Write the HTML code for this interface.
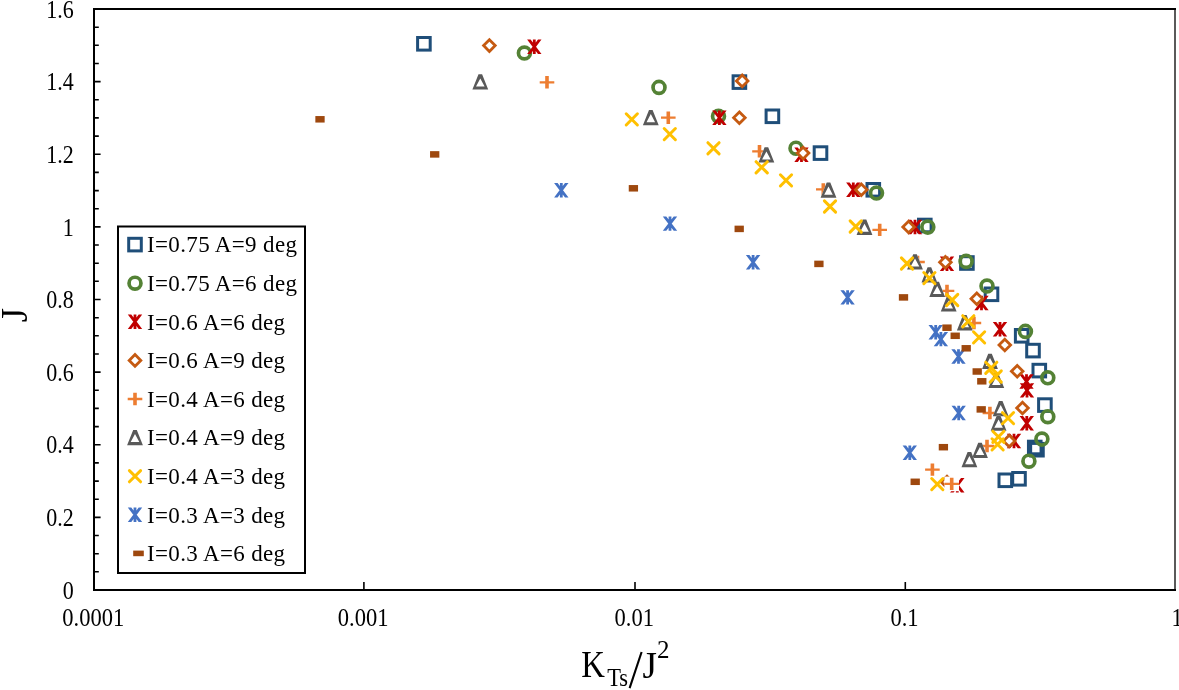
<!DOCTYPE html><html><head><meta charset="utf-8"><style>html,body{margin:0;padding:0;background:#fff;}svg{display:block;filter:blur(0.35px);}text{font-family:"Liberation Serif",serif;fill:#000;}</style></head><body>
<svg width="1179" height="690" viewBox="0 0 1179 690">
<rect width="1179" height="690" fill="#fff"/>
<path d="M94.0,571.8H98.8M94.0,553.7H98.8M94.0,535.5H98.8M94.0,517.4H100.6M94.0,499.2H98.8M94.0,481.1H98.8M94.0,462.9H98.8M94.0,444.8H100.6M94.0,426.6H98.8M94.0,408.4H98.8M94.0,390.3H98.8M94.0,372.1H100.6M94.0,354.0H98.8M94.0,335.8H98.8M94.0,317.7H98.8M94.0,299.5H100.6M94.0,281.3H98.8M94.0,263.2H98.8M94.0,245.0H98.8M94.0,226.9H100.6M94.0,208.7H98.8M94.0,190.6H98.8M94.0,172.4H98.8M94.0,154.2H100.6M94.0,136.1H98.8M94.0,117.9H98.8M94.0,99.8H98.8M94.0,81.6H100.6M94.0,63.5H98.8M94.0,45.3H98.8M94.0,27.2H98.8" stroke="#000" stroke-width="1.6"/>
<path d="M363.9,590.0V582.0M635.0,590.0V582.0M905.3,590.0V582.0" stroke="#000" stroke-width="1.6"/>
<rect x="94.0" y="9.0" width="1081.0" height="581.0" fill="none" stroke="#000" stroke-width="2"/>
<path d="M1175.0,10.0V589.0" fill="none" stroke="#5a5a5a" stroke-width="2"/>
<text transform="translate(73.8,598.6) scale(0.88,1)" font-size="25" text-anchor="end">0</text>
<text transform="translate(73.8,526.0) scale(0.88,1)" font-size="25" text-anchor="end">0.2</text>
<text transform="translate(73.8,453.4) scale(0.88,1)" font-size="25" text-anchor="end">0.4</text>
<text transform="translate(73.8,380.7) scale(0.88,1)" font-size="25" text-anchor="end">0.6</text>
<text transform="translate(73.8,308.1) scale(0.88,1)" font-size="25" text-anchor="end">0.8</text>
<text transform="translate(73.8,235.5) scale(0.88,1)" font-size="25" text-anchor="end">1</text>
<text transform="translate(73.8,162.8) scale(0.88,1)" font-size="25" text-anchor="end">1.2</text>
<text transform="translate(73.8,90.2) scale(0.88,1)" font-size="25" text-anchor="end">1.4</text>
<text transform="translate(73.8,17.6) scale(0.88,1)" font-size="25" text-anchor="end">1.6</text>
<text transform="translate(93.2,625.8) scale(0.9,1)" font-size="25" text-anchor="middle">0.0001</text>
<text transform="translate(363.1,625.8) scale(0.9,1)" font-size="25" text-anchor="middle">0.001</text>
<text transform="translate(634.2,625.8) scale(0.9,1)" font-size="25" text-anchor="middle">0.01</text>
<text transform="translate(904.5,625.8) scale(0.9,1)" font-size="25" text-anchor="middle">0.1</text>
<text transform="translate(1177.1,625.8) scale(0.9,1)" font-size="25" text-anchor="middle">1</text>
<text transform="translate(27.4,315) rotate(-90)" font-size="37" text-anchor="middle">J</text>
<text transform="translate(581.2,677) scale(0.885,1)" font-size="37">K</text>
<text transform="translate(607.2,685.5) scale(0.9,1)" font-size="25">Ts</text>
<path d="M629.6,688.2L641.6,652" stroke="#000" stroke-width="2.1"/>
<text x="642.4" y="678.2" font-size="37">J</text>
<text x="657" y="658.3" font-size="25">2</text>
<rect x="417.60" y="37.50" width="12.6" height="12.6" fill="none" stroke="#1F4E79" stroke-width="3"/>
<rect x="733.10" y="75.80" width="12.6" height="12.6" fill="none" stroke="#1F4E79" stroke-width="3"/>
<rect x="766.10" y="110.00" width="12.6" height="12.6" fill="none" stroke="#1F4E79" stroke-width="3"/>
<rect x="814.20" y="146.80" width="12.6" height="12.6" fill="none" stroke="#1F4E79" stroke-width="3"/>
<rect x="867.00" y="183.50" width="12.6" height="12.6" fill="none" stroke="#1F4E79" stroke-width="3"/>
<rect x="918.50" y="219.20" width="12.6" height="12.6" fill="none" stroke="#1F4E79" stroke-width="3"/>
<rect x="960.60" y="256.70" width="12.6" height="12.6" fill="none" stroke="#1F4E79" stroke-width="3"/>
<rect x="985.20" y="288.00" width="12.6" height="12.6" fill="none" stroke="#1F4E79" stroke-width="3"/>
<rect x="1015.40" y="329.50" width="12.6" height="12.6" fill="none" stroke="#1F4E79" stroke-width="3"/>
<rect x="1026.70" y="344.30" width="12.6" height="12.6" fill="none" stroke="#1F4E79" stroke-width="3"/>
<rect x="1033.00" y="364.30" width="12.6" height="12.6" fill="none" stroke="#1F4E79" stroke-width="3"/>
<rect x="1038.60" y="398.80" width="12.6" height="12.6" fill="none" stroke="#1F4E79" stroke-width="3"/>
<rect x="1028.45" y="441.20" width="12.6" height="12.6" fill="none" stroke="#1F4E79" stroke-width="3"/>
<rect x="1030.65" y="443.40" width="12.6" height="12.6" fill="none" stroke="#1F4E79" stroke-width="3"/>
<rect x="999.00" y="474.00" width="12.6" height="12.6" fill="none" stroke="#1F4E79" stroke-width="3"/>
<rect x="1012.70" y="472.50" width="12.6" height="12.6" fill="none" stroke="#1F4E79" stroke-width="3"/>
<circle cx="524.40" cy="53.00" r="5.95" fill="none" stroke="#548235" stroke-width="3.7"/>
<circle cx="659.00" cy="87.40" r="5.95" fill="none" stroke="#548235" stroke-width="3.7"/>
<circle cx="718.50" cy="116.30" r="5.95" fill="none" stroke="#548235" stroke-width="3.7"/>
<circle cx="796.00" cy="148.20" r="5.95" fill="none" stroke="#548235" stroke-width="3.7"/>
<circle cx="876.50" cy="193.00" r="5.95" fill="none" stroke="#548235" stroke-width="3.7"/>
<circle cx="927.80" cy="227.10" r="5.95" fill="none" stroke="#548235" stroke-width="3.7"/>
<circle cx="966.10" cy="261.40" r="5.95" fill="none" stroke="#548235" stroke-width="3.7"/>
<circle cx="987.00" cy="286.00" r="5.95" fill="none" stroke="#548235" stroke-width="3.7"/>
<circle cx="1025.40" cy="331.40" r="5.95" fill="none" stroke="#548235" stroke-width="3.7"/>
<circle cx="1047.80" cy="377.80" r="5.95" fill="none" stroke="#548235" stroke-width="3.7"/>
<circle cx="1047.80" cy="416.70" r="5.95" fill="none" stroke="#548235" stroke-width="3.7"/>
<circle cx="1041.90" cy="439.10" r="5.95" fill="none" stroke="#548235" stroke-width="3.7"/>
<circle cx="1028.90" cy="461.20" r="5.95" fill="none" stroke="#548235" stroke-width="3.7"/>
<path d="M527.10,39.50L530.60,39.50L541.50,53.90L538.00,53.90ZM530.60,53.90L527.10,53.90L538.00,39.50L541.50,39.50ZM532.90,39.50L535.70,39.50L535.70,53.90L532.90,53.90Z" fill="#C00000"/>
<path d="M712.20,110.50L715.70,110.50L726.60,124.90L723.10,124.90ZM715.70,124.90L712.20,124.90L723.10,110.50L726.60,110.50ZM718.00,110.50L720.80,110.50L720.80,124.90L718.00,124.90Z" fill="#C00000"/>
<path d="M794.30,147.50L797.80,147.50L808.70,161.90L805.20,161.90ZM797.80,161.90L794.30,161.90L805.20,147.50L808.70,147.50ZM800.10,147.50L802.90,147.50L802.90,161.90L800.10,161.90Z" fill="#C00000"/>
<path d="M846.10,182.60L849.60,182.60L860.50,197.00L857.00,197.00ZM849.60,197.00L846.10,197.00L857.00,182.60L860.50,182.60ZM851.90,182.60L854.70,182.60L854.70,197.00L851.90,197.00Z" fill="#C00000"/>
<path d="M907.80,219.80L911.30,219.80L922.20,234.20L918.70,234.20ZM911.30,234.20L907.80,234.20L918.70,219.80L922.20,219.80ZM913.60,219.80L916.40,219.80L916.40,234.20L913.60,234.20Z" fill="#C00000"/>
<path d="M939.80,256.60L943.30,256.60L954.20,271.00L950.70,271.00ZM943.30,271.00L939.80,271.00L950.70,256.60L954.20,256.60ZM945.60,256.60L948.40,256.60L948.40,271.00L945.60,271.00Z" fill="#C00000"/>
<path d="M974.30,295.80L977.80,295.80L988.70,310.20L985.20,310.20ZM977.80,310.20L974.30,310.20L985.20,295.80L988.70,295.80ZM980.10,295.80L982.90,295.80L982.90,310.20L980.10,310.20Z" fill="#C00000"/>
<path d="M992.80,322.10L996.30,322.10L1007.20,336.50L1003.70,336.50ZM996.30,336.50L992.80,336.50L1003.70,322.10L1007.20,322.10ZM998.60,322.10L1001.40,322.10L1001.40,336.50L998.60,336.50Z" fill="#C00000"/>
<path d="M1019.30,374.30L1022.80,374.30L1033.70,388.70L1030.20,388.70ZM1022.80,388.70L1019.30,388.70L1030.20,374.30L1033.70,374.30ZM1025.10,374.30L1027.90,374.30L1027.90,388.70L1025.10,388.70Z" fill="#C00000"/>
<path d="M1019.80,383.20L1023.30,383.20L1034.20,397.60L1030.70,397.60ZM1023.30,397.60L1019.80,397.60L1030.70,383.20L1034.20,383.20ZM1025.60,383.20L1028.40,383.20L1028.40,397.60L1025.60,397.60Z" fill="#C00000"/>
<path d="M1019.60,416.00L1023.10,416.00L1034.00,430.40L1030.50,430.40ZM1023.10,430.40L1019.60,430.40L1030.50,416.00L1034.00,416.00ZM1025.40,416.00L1028.20,416.00L1028.20,430.40L1025.40,430.40Z" fill="#C00000"/>
<path d="M1006.80,433.80L1010.30,433.80L1021.20,448.20L1017.70,448.20ZM1010.30,448.20L1006.80,448.20L1017.70,433.80L1021.20,433.80ZM1012.60,433.80L1015.40,433.80L1015.40,448.20L1012.60,448.20Z" fill="#C00000"/>
<path d="M950.10,478.00L953.60,478.00L964.50,492.40L961.00,492.40ZM953.60,492.40L950.10,492.40L961.00,478.00L964.50,478.00ZM955.90,478.00L958.70,478.00L958.70,492.40L955.90,492.40Z" fill="#C00000"/>
<path d="M489.40,39.80L495.20,45.60L489.40,51.40L483.60,45.60Z" fill="#fff" stroke="#C55A11" stroke-width="2.8"/>
<path d="M742.20,75.10L748.00,80.90L742.20,86.70L736.40,80.90Z" fill="#fff" stroke="#C55A11" stroke-width="2.8"/>
<path d="M739.40,111.90L745.20,117.70L739.40,123.50L733.60,117.70Z" fill="#fff" stroke="#C55A11" stroke-width="2.8"/>
<path d="M803.10,147.30L808.90,153.10L803.10,158.90L797.30,153.10Z" fill="#fff" stroke="#C55A11" stroke-width="2.8"/>
<path d="M861.30,184.00L867.10,189.80L861.30,195.60L855.50,189.80Z" fill="#fff" stroke="#C55A11" stroke-width="2.8"/>
<path d="M908.60,221.20L914.40,227.00L908.60,232.80L902.80,227.00Z" fill="#fff" stroke="#C55A11" stroke-width="2.8"/>
<path d="M945.40,256.40L951.20,262.20L945.40,268.00L939.60,262.20Z" fill="#fff" stroke="#C55A11" stroke-width="2.8"/>
<path d="M976.80,293.00L982.60,298.80L976.80,304.60L971.00,298.80Z" fill="#fff" stroke="#C55A11" stroke-width="2.8"/>
<path d="M1004.80,339.20L1010.60,345.00L1004.80,350.80L999.00,345.00Z" fill="#fff" stroke="#C55A11" stroke-width="2.8"/>
<path d="M1017.20,365.40L1023.00,371.20L1017.20,377.00L1011.40,371.20Z" fill="#fff" stroke="#C55A11" stroke-width="2.8"/>
<path d="M1022.50,402.20L1028.30,408.00L1022.50,413.80L1016.70,408.00Z" fill="#fff" stroke="#C55A11" stroke-width="2.8"/>
<path d="M1009.20,435.20L1015.00,441.00L1009.20,446.80L1003.40,441.00Z" fill="#fff" stroke="#C55A11" stroke-width="2.8"/>
<path d="M947.00,476.20L952.80,482.00L947.00,487.80L941.20,482.00Z" fill="#fff" stroke="#C55A11" stroke-width="2.8"/>
<rect x="539.70" y="75.00" width="14.6" height="14.6" fill="#fff"/><path d="M539.70,81.15L554.30,81.15L554.30,83.45L539.70,83.45ZM545.20,76.10L548.80,76.10L548.80,88.50L545.20,88.50Z" fill="#ED7D31"/>
<rect x="661.00" y="110.40" width="14.6" height="14.6" fill="#fff"/><path d="M661.00,116.55L675.60,116.55L675.60,118.85L661.00,118.85ZM666.50,111.50L670.10,111.50L670.10,123.90L666.50,123.90Z" fill="#ED7D31"/>
<rect x="752.20" y="144.00" width="14.6" height="14.6" fill="#fff"/><path d="M752.20,150.15L766.80,150.15L766.80,152.45L752.20,152.45ZM757.70,145.10L761.30,145.10L761.30,157.50L757.70,157.50Z" fill="#ED7D31"/>
<rect x="816.00" y="182.10" width="14.6" height="14.6" fill="#fff"/><path d="M816.00,188.25L830.60,188.25L830.60,190.55L816.00,190.55ZM821.50,183.20L825.10,183.20L825.10,195.60L821.50,195.60Z" fill="#ED7D31"/>
<rect x="872.40" y="222.60" width="14.6" height="14.6" fill="#fff"/><path d="M872.40,228.75L887.00,228.75L887.00,231.05L872.40,231.05ZM877.90,223.70L881.50,223.70L881.50,236.10L877.90,236.10Z" fill="#ED7D31"/>
<rect x="910.20" y="254.70" width="14.6" height="14.6" fill="#fff"/><path d="M910.20,260.85L924.80,260.85L924.80,263.15L910.20,263.15ZM915.70,255.80L919.30,255.80L919.30,268.20L915.70,268.20Z" fill="#ED7D31"/>
<rect x="939.70" y="283.60" width="14.6" height="14.6" fill="#fff"/><path d="M939.70,289.75L954.30,289.75L954.30,292.05L939.70,292.05ZM945.20,284.70L948.80,284.70L948.80,297.10L945.20,297.10Z" fill="#ED7D31"/>
<rect x="966.60" y="315.70" width="14.6" height="14.6" fill="#fff"/><path d="M966.60,321.85L981.20,321.85L981.20,324.15L966.60,324.15ZM972.10,316.80L975.70,316.80L975.70,329.20L972.10,329.20Z" fill="#ED7D31"/>
<rect x="982.60" y="405.70" width="14.6" height="14.6" fill="#fff"/><path d="M982.60,411.85L997.20,411.85L997.20,414.15L982.60,414.15ZM988.10,406.80L991.70,406.80L991.70,419.20L988.10,419.20Z" fill="#ED7D31"/>
<rect x="979.70" y="438.70" width="14.6" height="14.6" fill="#fff"/><path d="M979.70,444.85L994.30,444.85L994.30,447.15L979.70,447.15ZM985.20,439.80L988.80,439.80L988.80,452.20L985.20,452.20Z" fill="#ED7D31"/>
<rect x="925.10" y="462.30" width="14.6" height="14.6" fill="#fff"/><path d="M925.10,468.45L939.70,468.45L939.70,470.75L925.10,470.75ZM930.60,463.40L934.20,463.40L934.20,475.80L930.60,475.80Z" fill="#ED7D31"/>
<rect x="944.40" y="476.60" width="14.6" height="14.6" fill="#fff"/><path d="M944.40,482.75L959.00,482.75L959.00,485.05L944.40,485.05ZM949.90,477.70L953.50,477.70L953.50,490.10L949.90,490.10Z" fill="#ED7D31"/>
<path d="M478.50,74.30L482.10,74.30L488.20,89.60L472.40,89.60Z" fill="#fff"/><path d="M478.50,74.30L482.10,74.30L488.20,89.60L472.40,89.60ZM480.30,78.40L484.60,86.50L476.00,86.50Z" fill="#595959" fill-rule="evenodd"/>
<path d="M649.00,110.00L652.60,110.00L658.70,125.30L642.90,125.30Z" fill="#fff"/><path d="M649.00,110.00L652.60,110.00L658.70,125.30L642.90,125.30ZM650.80,114.10L655.10,122.20L646.50,122.20Z" fill="#595959" fill-rule="evenodd"/>
<path d="M764.60,147.30L768.20,147.30L774.30,162.60L758.50,162.60Z" fill="#fff"/><path d="M764.60,147.30L768.20,147.30L774.30,162.60L758.50,162.60ZM766.40,151.40L770.70,159.50L762.10,159.50Z" fill="#595959" fill-rule="evenodd"/>
<path d="M826.70,182.50L830.30,182.50L836.40,197.80L820.60,197.80Z" fill="#fff"/><path d="M826.70,182.50L830.30,182.50L836.40,197.80L820.60,197.80ZM828.50,186.60L832.80,194.70L824.20,194.70Z" fill="#595959" fill-rule="evenodd"/>
<path d="M862.70,219.60L866.30,219.60L872.40,234.90L856.60,234.90Z" fill="#fff"/><path d="M862.70,219.60L866.30,219.60L872.40,234.90L856.60,234.90ZM864.50,223.70L868.80,231.80L860.20,231.80Z" fill="#595959" fill-rule="evenodd"/>
<path d="M913.20,254.30L916.80,254.30L922.90,269.60L907.10,269.60Z" fill="#fff"/><path d="M913.20,254.30L916.80,254.30L922.90,269.60L907.10,269.60ZM915.00,258.40L919.30,266.50L910.70,266.50Z" fill="#595959" fill-rule="evenodd"/>
<path d="M927.60,267.30L931.20,267.30L937.30,282.60L921.50,282.60Z" fill="#fff"/><path d="M927.60,267.30L931.20,267.30L937.30,282.60L921.50,282.60ZM929.40,271.40L933.70,279.50L925.10,279.50Z" fill="#595959" fill-rule="evenodd"/>
<path d="M935.40,281.80L939.00,281.80L945.10,297.10L929.30,297.10Z" fill="#fff"/><path d="M935.40,281.80L939.00,281.80L945.10,297.10L929.30,297.10ZM937.20,285.90L941.50,294.00L932.90,294.00Z" fill="#595959" fill-rule="evenodd"/>
<path d="M946.90,296.30L950.50,296.30L956.60,311.60L940.80,311.60Z" fill="#fff"/><path d="M946.90,296.30L950.50,296.30L956.60,311.60L940.80,311.60ZM948.70,300.40L953.00,308.50L944.40,308.50Z" fill="#595959" fill-rule="evenodd"/>
<path d="M963.00,315.10L966.60,315.10L972.70,330.40L956.90,330.40Z" fill="#fff"/><path d="M963.00,315.10L966.60,315.10L972.70,330.40L956.90,330.40ZM964.80,319.20L969.10,327.30L960.50,327.30Z" fill="#595959" fill-rule="evenodd"/>
<path d="M988.20,353.80L991.80,353.80L997.90,369.10L982.10,369.10Z" fill="#fff"/><path d="M988.20,353.80L991.80,353.80L997.90,369.10L982.10,369.10ZM990.00,357.90L994.30,366.00L985.70,366.00Z" fill="#595959" fill-rule="evenodd"/>
<path d="M994.50,372.70L998.10,372.70L1004.20,388.00L988.40,388.00Z" fill="#fff"/><path d="M994.50,372.70L998.10,372.70L1004.20,388.00L988.40,388.00ZM996.30,376.80L1000.60,384.90L992.00,384.90Z" fill="#595959" fill-rule="evenodd"/>
<path d="M998.90,401.00L1002.50,401.00L1008.60,416.30L992.80,416.30Z" fill="#fff"/><path d="M998.90,401.00L1002.50,401.00L1008.60,416.30L992.80,416.30ZM1000.70,405.10L1005.00,413.20L996.40,413.20Z" fill="#595959" fill-rule="evenodd"/>
<path d="M996.80,415.50L1000.40,415.50L1006.50,430.80L990.70,430.80Z" fill="#fff"/><path d="M996.80,415.50L1000.40,415.50L1006.50,430.80L990.70,430.80ZM998.60,419.60L1002.90,427.70L994.30,427.70Z" fill="#595959" fill-rule="evenodd"/>
<path d="M978.20,442.80L981.80,442.80L987.90,458.10L972.10,458.10Z" fill="#fff"/><path d="M978.20,442.80L981.80,442.80L987.90,458.10L972.10,458.10ZM980.00,446.90L984.30,455.00L975.70,455.00Z" fill="#595959" fill-rule="evenodd"/>
<path d="M967.60,452.00L971.20,452.00L977.30,467.30L961.50,467.30Z" fill="#fff"/><path d="M967.60,452.00L971.20,452.00L977.30,467.30L961.50,467.30ZM969.40,456.10L973.70,464.20L965.10,464.20Z" fill="#595959" fill-rule="evenodd"/>
<path d="M626.20,113.80L637.40,125.00M637.40,113.80L626.20,125.00" stroke="#FFC000" stroke-width="3" stroke-linecap="round"/>
<path d="M664.20,128.50L675.40,139.70M675.40,128.50L664.20,139.70" stroke="#FFC000" stroke-width="3" stroke-linecap="round"/>
<path d="M707.90,142.70L719.10,153.90M719.10,142.70L707.90,153.90" stroke="#FFC000" stroke-width="3" stroke-linecap="round"/>
<path d="M756.10,161.70L767.30,172.90M767.30,161.70L756.10,172.90" stroke="#FFC000" stroke-width="3" stroke-linecap="round"/>
<path d="M780.40,174.80L791.60,186.00M791.60,174.80L780.40,186.00" stroke="#FFC000" stroke-width="3" stroke-linecap="round"/>
<path d="M824.40,200.90L835.60,212.10M835.60,200.90L824.40,212.10" stroke="#FFC000" stroke-width="3" stroke-linecap="round"/>
<path d="M850.10,220.90L861.30,232.10M861.30,220.90L850.10,232.10" stroke="#FFC000" stroke-width="3" stroke-linecap="round"/>
<path d="M901.40,257.90L912.60,269.10M912.60,257.90L901.40,269.10" stroke="#FFC000" stroke-width="3" stroke-linecap="round"/>
<path d="M923.80,272.50L935.00,283.70M935.00,272.50L923.80,283.70" stroke="#FFC000" stroke-width="3" stroke-linecap="round"/>
<path d="M946.60,294.40L957.80,305.60M957.80,294.40L946.60,305.60" stroke="#FFC000" stroke-width="3" stroke-linecap="round"/>
<path d="M962.70,315.70L973.90,326.90M973.90,315.70L962.70,326.90" stroke="#FFC000" stroke-width="3" stroke-linecap="round"/>
<path d="M973.50,331.80L984.70,343.00M984.70,331.80L973.50,343.00" stroke="#FFC000" stroke-width="3" stroke-linecap="round"/>
<path d="M985.70,362.20L996.90,373.40M996.90,362.20L985.70,373.40" stroke="#FFC000" stroke-width="3" stroke-linecap="round"/>
<path d="M990.10,370.90L1001.30,382.10M1001.30,370.90L990.10,382.10" stroke="#FFC000" stroke-width="3" stroke-linecap="round"/>
<path d="M1002.40,412.50L1013.60,423.70M1013.60,412.50L1002.40,423.70" stroke="#FFC000" stroke-width="3" stroke-linecap="round"/>
<path d="M992.80,431.20L1004.00,442.40M1004.00,431.20L992.80,442.40" stroke="#FFC000" stroke-width="3" stroke-linecap="round"/>
<path d="M992.00,438.80L1003.20,450.00M1003.20,438.80L992.00,450.00" stroke="#FFC000" stroke-width="3" stroke-linecap="round"/>
<path d="M931.70,478.50L942.90,489.70M942.90,478.50L931.70,489.70" stroke="#FFC000" stroke-width="3" stroke-linecap="round"/>
<path d="M554.10,183.00L557.60,183.00L568.50,197.40L565.00,197.40ZM557.60,197.40L554.10,197.40L565.00,183.00L568.50,183.00ZM559.90,183.00L562.70,183.00L562.70,197.40L559.90,197.40Z" fill="#4472C4"/>
<path d="M662.80,216.40L666.30,216.40L677.20,230.80L673.70,230.80ZM666.30,230.80L662.80,230.80L673.70,216.40L677.20,216.40ZM668.60,216.40L671.40,216.40L671.40,230.80L668.60,230.80Z" fill="#4472C4"/>
<path d="M745.90,255.00L749.40,255.00L760.30,269.40L756.80,269.40ZM749.40,269.40L745.90,269.40L756.80,255.00L760.30,255.00ZM751.70,255.00L754.50,255.00L754.50,269.40L751.70,269.40Z" fill="#4472C4"/>
<path d="M840.40,290.20L843.90,290.20L854.80,304.60L851.30,304.60ZM843.90,304.60L840.40,304.60L851.30,290.20L854.80,290.20ZM846.20,290.20L849.00,290.20L849.00,304.60L846.20,304.60Z" fill="#4472C4"/>
<path d="M928.50,325.00L932.00,325.00L942.90,339.40L939.40,339.40ZM932.00,339.40L928.50,339.40L939.40,325.00L942.90,325.00ZM934.30,325.00L937.10,325.00L937.10,339.40L934.30,339.40Z" fill="#4472C4"/>
<path d="M933.70,331.90L937.20,331.90L948.10,346.30L944.60,346.30ZM937.20,346.30L933.70,346.30L944.60,331.90L948.10,331.90ZM939.50,331.90L942.30,331.90L942.30,346.30L939.50,346.30Z" fill="#4472C4"/>
<path d="M951.30,349.30L954.80,349.30L965.70,363.70L962.20,363.70ZM954.80,363.70L951.30,363.70L962.20,349.30L965.70,349.30ZM957.10,349.30L959.90,349.30L959.90,363.70L957.10,363.70Z" fill="#4472C4"/>
<path d="M951.50,405.80L955.00,405.80L965.90,420.20L962.40,420.20ZM955.00,420.20L951.50,420.20L962.40,405.80L965.90,405.80ZM957.30,405.80L960.10,405.80L960.10,420.20L957.30,420.20Z" fill="#4472C4"/>
<path d="M902.60,445.60L906.10,445.60L917.00,460.00L913.50,460.00ZM906.10,460.00L902.60,460.00L913.50,445.60L917.00,445.60ZM908.40,445.60L911.20,445.60L911.20,460.00L908.40,460.00Z" fill="#4472C4"/>
<rect x="315.35" y="116.05" width="9.3" height="6.5" fill="#9E480E"/>
<rect x="430.05" y="151.15" width="9.3" height="6.5" fill="#9E480E"/>
<rect x="628.75" y="185.05" width="9.3" height="6.5" fill="#9E480E"/>
<rect x="734.55" y="225.65" width="9.3" height="6.5" fill="#9E480E"/>
<rect x="814.25" y="260.65" width="9.3" height="6.5" fill="#9E480E"/>
<rect x="898.85" y="294.15" width="9.3" height="6.5" fill="#9E480E"/>
<rect x="942.35" y="324.45" width="9.3" height="6.5" fill="#9E480E"/>
<rect x="950.55" y="332.55" width="9.3" height="6.5" fill="#9E480E"/>
<rect x="961.55" y="345.05" width="9.3" height="6.5" fill="#9E480E"/>
<rect x="972.55" y="368.25" width="9.3" height="6.5" fill="#9E480E"/>
<rect x="977.15" y="378.05" width="9.3" height="6.5" fill="#9E480E"/>
<rect x="976.55" y="406.15" width="9.3" height="6.5" fill="#9E480E"/>
<rect x="938.75" y="443.95" width="9.3" height="6.5" fill="#9E480E"/>
<rect x="910.55" y="478.55" width="9.3" height="6.5" fill="#9E480E"/>
<rect x="118" y="226.5" width="187" height="346.5" fill="#fff" stroke="#000" stroke-width="2"/>
<rect x="128.70" y="238.30" width="12.6" height="12.6" fill="none" stroke="#1F4E79" stroke-width="3"/>
<text x="147" y="252.4" font-size="23" letter-spacing="0.35">I=0.75 A=9 deg</text>
<circle cx="135.00" cy="283.20" r="5.95" fill="none" stroke="#548235" stroke-width="3.7"/>
<text x="147" y="291.0" font-size="23" letter-spacing="0.35">I=0.75 A=6 deg</text>
<path d="M127.80,314.60L131.30,314.60L142.20,329.00L138.70,329.00ZM131.30,329.00L127.80,329.00L138.70,314.60L142.20,314.60ZM133.60,314.60L136.40,314.60L136.40,329.00L133.60,329.00Z" fill="#C00000"/>
<text x="147" y="329.6" font-size="23" letter-spacing="0.35">I=0.6 A=6 deg</text>
<path d="M135.00,354.60L140.80,360.40L135.00,366.20L129.20,360.40Z" fill="#fff" stroke="#C55A11" stroke-width="2.8"/>
<text x="147" y="368.2" font-size="23" letter-spacing="0.35">I=0.6 A=9 deg</text>
<path d="M127.70,397.85L142.30,397.85L142.30,400.15L127.70,400.15ZM133.20,392.80L136.80,392.80L136.80,405.20L133.20,405.20Z" fill="#ED7D31"/>
<text x="147" y="406.8" font-size="23" letter-spacing="0.35">I=0.4 A=6 deg</text>
<path d="M133.20,429.90L136.80,429.90L142.90,445.20L127.10,445.20Z" fill="#fff"/><path d="M133.20,429.90L136.80,429.90L142.90,445.20L127.10,445.20ZM135.00,434.00L139.30,442.10L130.70,442.10Z" fill="#595959" fill-rule="evenodd"/>
<text x="147" y="445.4" font-size="23" letter-spacing="0.35">I=0.4 A=9 deg</text>
<path d="M129.40,470.60L140.60,481.80M140.60,470.60L129.40,481.80" stroke="#FFC000" stroke-width="3" stroke-linecap="round"/>
<text x="147" y="484.0" font-size="23" letter-spacing="0.35">I=0.4 A=3 deg</text>
<path d="M127.80,507.60L131.30,507.60L142.20,522.00L138.70,522.00ZM131.30,522.00L127.80,522.00L138.70,507.60L142.20,507.60ZM133.60,507.60L136.40,507.60L136.40,522.00L133.60,522.00Z" fill="#4472C4"/>
<text x="147" y="522.6" font-size="23" letter-spacing="0.35">I=0.3 A=3 deg</text>
<rect x="133.20" y="550.60" width="10.6" height="5.6" fill="#9E480E"/>
<text x="147" y="561.2" font-size="23" letter-spacing="0.35">I=0.3 A=6 deg</text>
</svg></body></html>
